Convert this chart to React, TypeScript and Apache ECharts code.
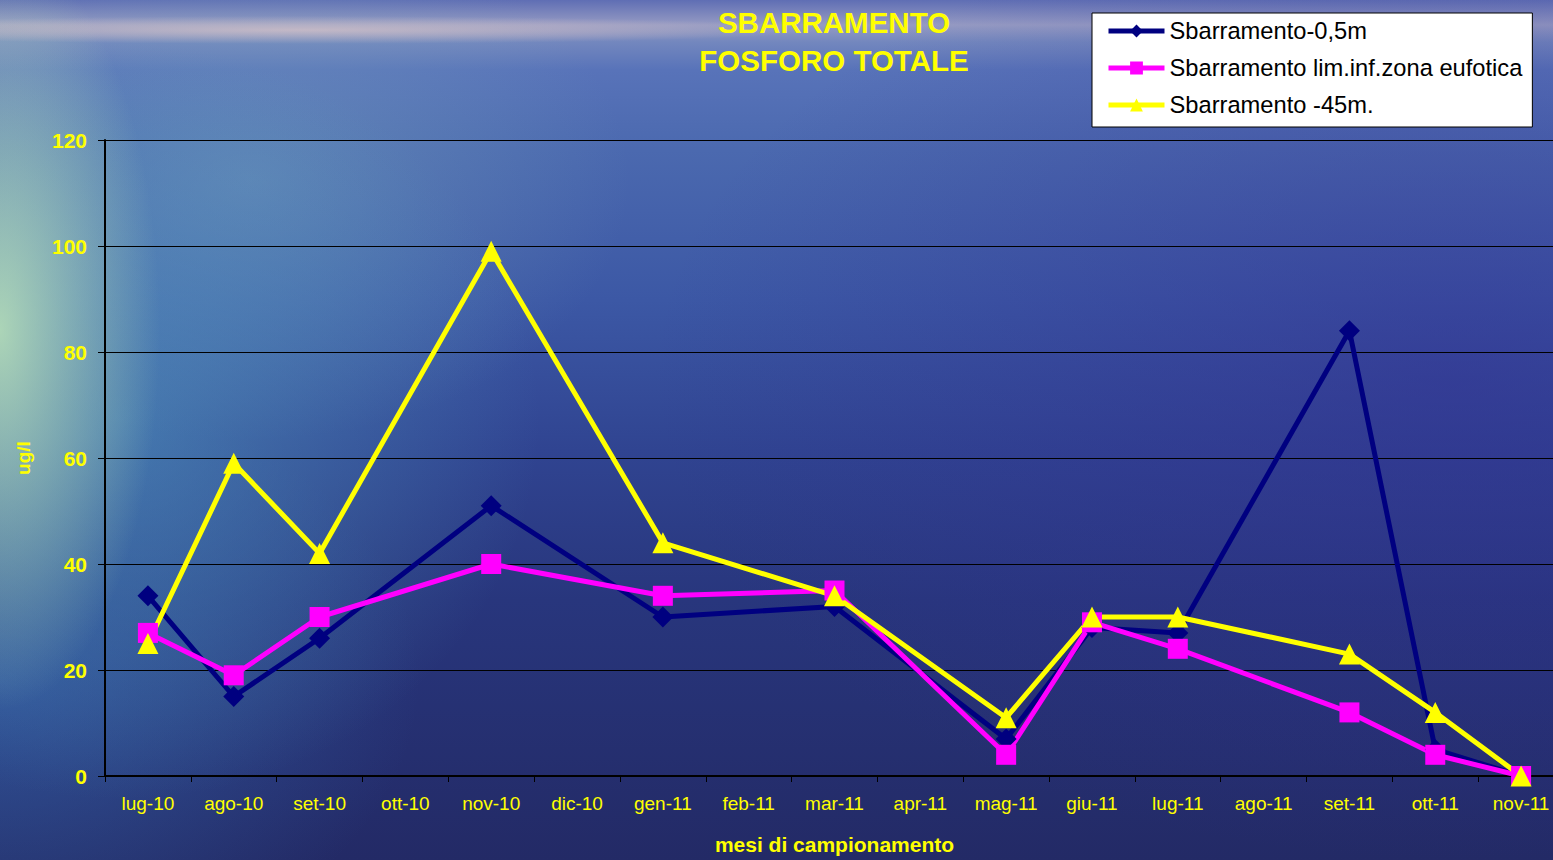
import React, { useEffect, useRef } from "react";
import * as echarts from "echarts";

const categories = [
  "lug-10", "ago-10", "set-10", "ott-10", "nov-10", "dic-10", "gen-11", "feb-11", "mar-11",
  "apr-11", "mag-11", "giu-11", "lug-11", "ago-11", "set-11", "ott-11", "nov-11",
];
const surface = [34, 15, 26, null, 51, null, 30, null, 32, null, 7, 28, 27, null, 84, 5, 0];
const euphotic = [27, 19, 30, null, 40, null, 34, null, 35, null, 4, 29, 24, null, 12, 4, 0];
const deep = [25, 59, 42, null, 99, null, 44, null, 34, null, 11, 30, 30, null, 23, 12, 0];
const yTicks = { min: 0, max: 120, interval: 20 };

const seriesNames = ["Sbarramento-0,5m", "Sbarramento lim.inf.zona eufotica", "Sbarramento -45m."];

export default function App() {
  const ref = useRef<HTMLDivElement>(null);
  useEffect(() => {
    document.body.style.margin = "0";
    document.body.style.overflow = "hidden";
    document.documentElement.style.overflow = "hidden";
    if (!ref.current) return;
    const chart = echarts.init(ref.current, undefined, { renderer: "svg" });
    const font = "Liberation Sans, Arial, sans-serif";
    chart.setOption({
      animation: false,
      textStyle: { fontFamily: font },
      graphic: [
        {
          type: "text",
          x: 834,
          y: 3,
          style: {
            text: "SBARRAMENTO\nFOSFORO TOTALE",
            textAlign: "center",
            textVerticalAlign: "top",
            fontSize: 29.5,
            lineHeight: 38,
            fontWeight: "bold",
            fontFamily: font,
            fill: "#ffff00",
          },
        },
      ],
      legend: {
        orient: "vertical",
        left: 1092,
        top: 13,
        backgroundColor: "#ffffff",
        borderColor: "#000000",
        borderWidth: 1,
        padding: [6, 10, 10, 14],
        itemGap: 13,
        itemWidth: 56,
        itemHeight: 16,
        itemTextGap: 2,
        lineStyle: { width: 5 },
        textStyle: { fontSize: 23.7, color: "#000000", fontFamily: font },
        data: seriesNames,
      },
      grid: { left: 105, top: 140, bottom: 80, right: 6 },
      xAxis: {
        type: "category",
        data: categories,
        boundaryGap: true,
        name: "mesi di campionamento",
        nameLocation: "middle",
        nameGap: 58,
        nameTextStyle: { color: "#ffff00", fontWeight: "bold", fontSize: 21, fontFamily: font },
        axisLine: { lineStyle: { color: "#000000", width: 2 } },
        axisTick: { show: true, alignWithLabel: false, length: 6, lineStyle: { color: "#000000" } },
        axisLabel: { color: "#ffff00", fontSize: 19, margin: 18, fontFamily: font, interval: 0 },
        splitLine: { show: false },
      },
      yAxis: {
        type: "value",
        min: yTicks.min,
        max: yTicks.max,
        interval: yTicks.interval,
        name: "ug/l",
        nameLocation: "middle",
        nameRotate: 90,
        nameGap: 72,
        nameTextStyle: { color: "#ffff00", fontWeight: "bold", fontSize: 19, fontFamily: font },
        axisLine: { show: true, lineStyle: { color: "#000000", width: 2 } },
        axisTick: { show: true, length: 7, lineStyle: { color: "#000000" } },
        axisLabel: { color: "#ffff00", fontSize: 21, fontWeight: "bold", margin: 18, fontFamily: font },
        splitLine: { show: true, lineStyle: { color: "#000000", width: 1 } },
      },
      series: [
        {
          name: seriesNames[0],
          type: "line",
          data: surface,
          connectNulls: true,
          symbol: "diamond",
          symbolSize: 21,
          lineStyle: { color: "#000080", width: 5 },
          itemStyle: { color: "#000080" },
        },
        {
          name: seriesNames[1],
          type: "line",
          data: euphotic,
          connectNulls: true,
          symbol: "rect",
          symbolSize: 20,
          lineStyle: { color: "#ff00ff", width: 5 },
          itemStyle: { color: "#ff00ff" },
        },
        {
          name: seriesNames[2],
          type: "line",
          data: deep,
          connectNulls: true,
          symbol: "triangle",
          symbolSize: 21,
          lineStyle: { color: "#ffff00", width: 5 },
          itemStyle: { color: "#ffff00" },
        },
      ],
    });
    return () => chart.dispose();
  }, []);

  const bg = [
    "radial-gradient(ellipse 520px 14px at 300px 30px, rgba(215,195,200,0.75), rgba(215,195,200,0) 100%)",
    "radial-gradient(ellipse 160px 380px at 0px 330px, rgba(190,230,185,0.85), rgba(190,230,185,0) 100%)",
    "radial-gradient(ellipse 420px 380px at 120px 420px, rgba(85,160,195,0.55), rgba(85,160,195,0) 100%)",
    "radial-gradient(ellipse 380px 260px at 250px 180px, rgba(120,165,190,0.45), rgba(120,165,190,0) 100%)",
    "radial-gradient(ellipse 420px 300px at 0px 680px, rgba(60,120,190,0.5), rgba(60,120,190,0) 100%)",
    "radial-gradient(ellipse 800px 480px at 1450px 380px, rgba(50,45,145,0.5), rgba(50,45,145,0) 100%)",
    "linear-gradient(to bottom, rgb(95,110,180) 0px, rgb(150,155,195) 25px, rgb(115,135,190) 42px, rgb(88,115,185) 70px, rgb(75,105,175) 150px, rgb(60,88,165) 300px, rgb(48,68,145) 450px, rgb(40,54,125) 600px, rgb(35,42,102) 860px)",
  ].join(", ");

  return (
    <div
      style={{
        position: "fixed",
        left: 0,
        top: 0,
        width: 1553,
        height: 860,
        background: bg,
        overflow: "hidden",
      }}
    >
      <div ref={ref} style={{ width: 1570, height: 860 }} />
    </div>
  );
}
